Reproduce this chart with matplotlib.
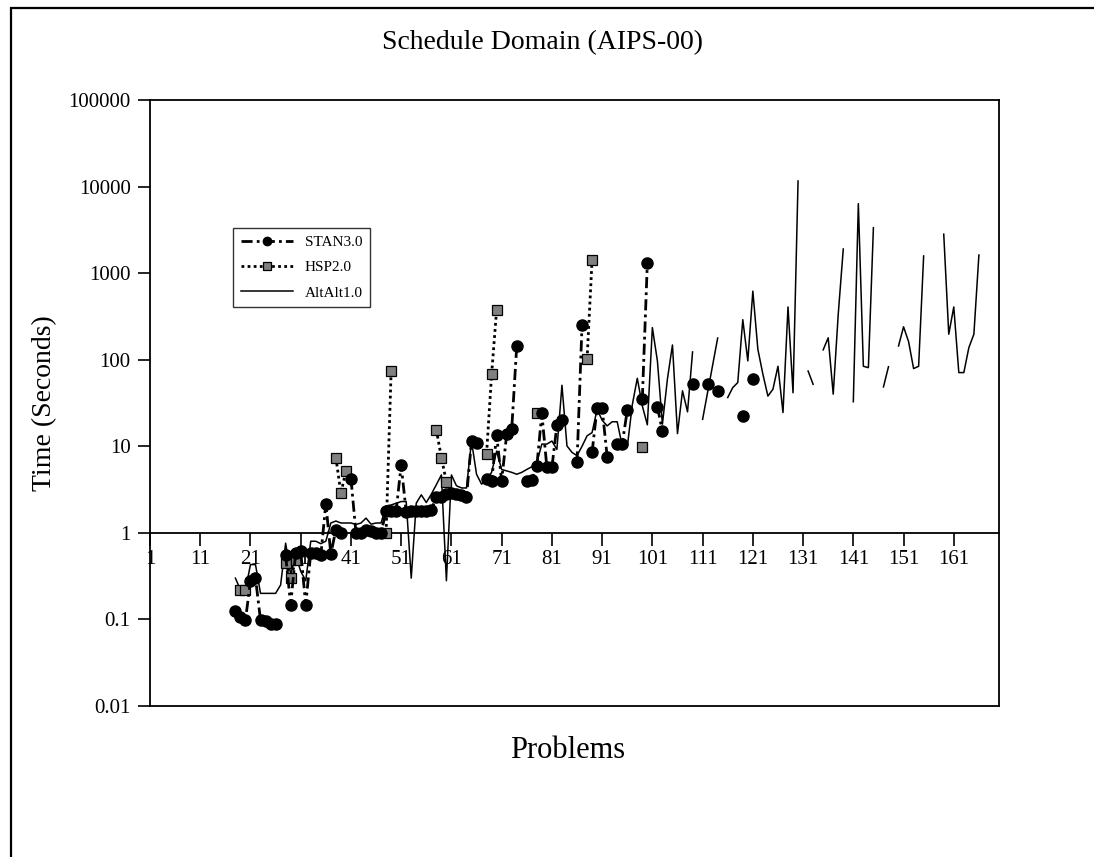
import numpy as np
import matplotlib
matplotlib.use("Agg")
import matplotlib.pyplot as plt
from matplotlib.patches import Rectangle
from matplotlib.ticker import FixedLocator, FixedFormatter, NullLocator

nan = np.nan

# ---------------------------------------------------------------------------
# Data (time in seconds per problem, gaps = unsolved)
# ---------------------------------------------------------------------------
stan_x = list(range(18, 122))
stan_y = [
    0.126, 0.108, 0.098, 0.28, 0.30, 0.098, 0.095, 0.088, 0.088, nan,    # 18-27
    0.55, 0.147, 0.59, 0.61, 0.147, 0.59, 0.58, 0.55, 2.18, 0.57,         # 28-37
    1.09, 1.0, nan, 4.24, 1.0, 1.0, 1.09, 1.05, 1.0, 1.0,                 # 38-47
    1.8, 1.8, 1.8, 6.1, 1.72, 1.8, 1.8, 1.8, 1.8, 1.84,                   # 48-57
    2.6, 2.6, 2.8, 2.9, 2.8, 2.75, 2.6, 11.5, 11.0, nan,                  # 58-67
    4.2, 4.0, 13.4, 4.0, 13.8, 15.7, 144, nan, 4.0, 4.1,                  # 68-77
    5.9, 24, 5.7, 5.7, 17.5, 20, nan, nan, 6.5, 252,                      # 78-87
    nan, 8.5, 28, 27.5, 7.6, nan, 10.6, 10.6, 26, nan,                    # 88-97
    nan, 35, 1322, nan, 28.7, 14.9, nan, nan, nan, nan,                   # 98-107
    nan, 53, nan, nan, 53, nan, 44, nan, nan, nan,                        # 108-117
    nan, 22.4, nan, 59.6,                                                 # 118-121
]

hsp_x = list(range(19, 100))
hsp_y = [
    0.22, 0.22, nan, nan, nan, nan, nan, nan, nan,                        # 19-27
    0.45, 0.30, 0.48, nan, nan, nan, nan, nan, nan, nan,                  # 28-37
    7.4, 2.87, 5.2, nan, nan, nan, nan, nan, nan, nan,                    # 38-47
    1.0, 75, nan, nan, nan, nan, nan, nan, nan, nan,                      # 48-57
    15.5, 7.4, 3.9, nan, nan, nan, nan, nan, nan, nan,                    # 58-67
    8.2, 68, 380, nan, nan, nan, nan, nan, nan, nan,                      # 68-77
    24.5, nan, nan, nan, nan, nan, nan, nan, nan, nan,                    # 78-87
    101, 1420, nan, nan, nan, nan, nan, nan, nan, nan,                    # 88-97
    nan, 9.7,                                                             # 98-99
]

alt_x = list(range(18, 167))
alt_y = [
    0.30, 0.22, 0.22, 0.43, 0.43, 0.20, 0.20, 0.20, 0.20, 0.25,           # 18-27
    0.76, 0.33, 0.55, 0.36, 0.28, 0.80, 0.80, 0.75, 0.80, 1.3,            # 28-37
    1.37, 1.3, 1.3, 1.3, 1.25, 1.3, 1.48, 1.26, 1.3, 1.3,                 # 38-47
    2.05, 2.1, 2.2, 2.3, 2.3, 0.3, 2.2, 2.75, 2.24, 2.8,                  # 48-57
    3.6, 4.67, 0.28, 4.67, 3.5, 3.3, 3.3, 11.5, 4.75, 3.65,               # 58-67
    4.2, 5.0, 8.8, 5.4, 5.2, 5.0, 4.75, 5.0, 5.4, 5.8,                    # 68-77
    6.5, 10.6, 10.6, 11.5, 9.2, 50.7, 10.1, 8.5, 7.8, 10,                 # 78-87
    13.2, 14.4, 26.7, 20, 17.2, 19.2, 19.2, 10.1, 9.7, 30,                # 88-97
    61, 29.3, 17.7, 235, 97, 18, 60, 148, 14, 43.7,                       # 98-107
    25, 123, nan, 20.5, 42, 86, 178, nan, 36.6, 47.6,                     # 108-117
    54.5, 290, 97, 620, 132, 68, 38, 45.6, 84, 24.5,                      # 118-127
    407, 41.5, 11600, nan, 74, 52, nan, 130, 179, 40,                     # 128-137
    336, 1900, nan, 32.7, 6350, 84, 81, 3350, nan, 48.5,                  # 138-147
    83, nan, 144, 240, 162, 79, 84, 1580, nan, nan,                       # 148-157
    nan, 2820, 197, 407, 71, 71, 138, 197, 1620,                          # 158-166
]

x_ticks = list(range(1, 170, 10))
y_ticks = [0.01, 0.1, 1, 10, 100, 1000, 10000, 100000]
y_labels = ["0.01", "0.1", "1", "10", "100", "1000", "10000", "100000"]

# ---------------------------------------------------------------------------
W, H = 1094, 857
plt.rcParams["font.family"] = ["Liberation Serif", "DejaVu Serif"]

fig = plt.figure(figsize=(W / 100, H / 100), dpi=100)
fig.patch.set_facecolor("white")

# outer frame (cut off on the right and bottom, like the source)
fig.add_artist(Rectangle((11 / W, -0.2), 1.5, 1.2 - 8 / H, transform=fig.transFigure,
                         fill=False, lw=1.6, edgecolor="black"))

left, right, top, bottom = 150, 999, 100, 706
ax = fig.add_axes([left / W, 1 - bottom / H, (right - left) / W, (bottom - top) / H])

ax.plot(alt_x, alt_y, color="black", lw=1.1, label="AltAlt1.0", zorder=2)
ax.plot(hsp_x, hsp_y, color="black", lw=2.0, ls=(0, (1, 1.2)), marker="s", ms=7.5,
        mfc="#808080", mec="black", mew=0.9, label="HSP2.0", zorder=3)
ax.plot(stan_x, stan_y, color="black", lw=2.0, ls=(0, (4, 1.5, 1, 1.5)), marker="o",
        ms=8, mfc="black", mec="black", label="STAN3.0", zorder=4)

ax.set_yscale("log")
ax.set_ylim(0.01, 100000)
ax.set_xlim(1, 170)

ax.yaxis.set_major_locator(FixedLocator(y_ticks))
ax.yaxis.set_major_formatter(FixedFormatter(y_labels))
ax.yaxis.set_minor_locator(NullLocator())
ax.tick_params(axis="y", direction="out", length=9, width=1.2, labelsize=15, pad=5)

# category axis crosses the value axis at 1
ax.spines["bottom"].set_position(("data", 1))
ax.set_xticks(x_ticks)
ax.xaxis.set_minor_locator(NullLocator())
ax.tick_params(axis="x", direction="out", length=9, width=1.2, labelsize=15, pad=3)
for s in ax.spines.values():
    s.set_linewidth(1.3)
ax.axhline(0.01, color="black", lw=1.3, clip_on=False, zorder=5)

fig.text(542 / W, 1 - 43 / H, "Schedule Domain (AIPS-00)",
         ha="center", va="center", fontsize=20)
fig.text(568 / W, 1 - 750 / H, "Problems",
         ha="center", va="center", fontsize=22)
fig.text(45 / W, 1 - 403 / H, "Time (Seconds)", rotation=90,
         ha="center", va="center", fontsize=20)

handles, labels = ax.get_legend_handles_labels()
order = [2, 1, 0]
leg = ax.legend([handles[i] for i in order], [labels[i] for i in order],
                loc="upper left", bbox_to_anchor=(233 / W, 1 - 228 / H),
                bbox_transform=fig.transFigure, fontsize=11, frameon=True,
                fancybox=False, edgecolor="black", handlelength=3.4,
                handletextpad=0.8, borderpad=0.5, labelspacing=0.75,
                markerscale=0.75, borderaxespad=0)
leg.get_frame().set_linewidth(1.0)

fig.savefig("out.png", dpi=100)
